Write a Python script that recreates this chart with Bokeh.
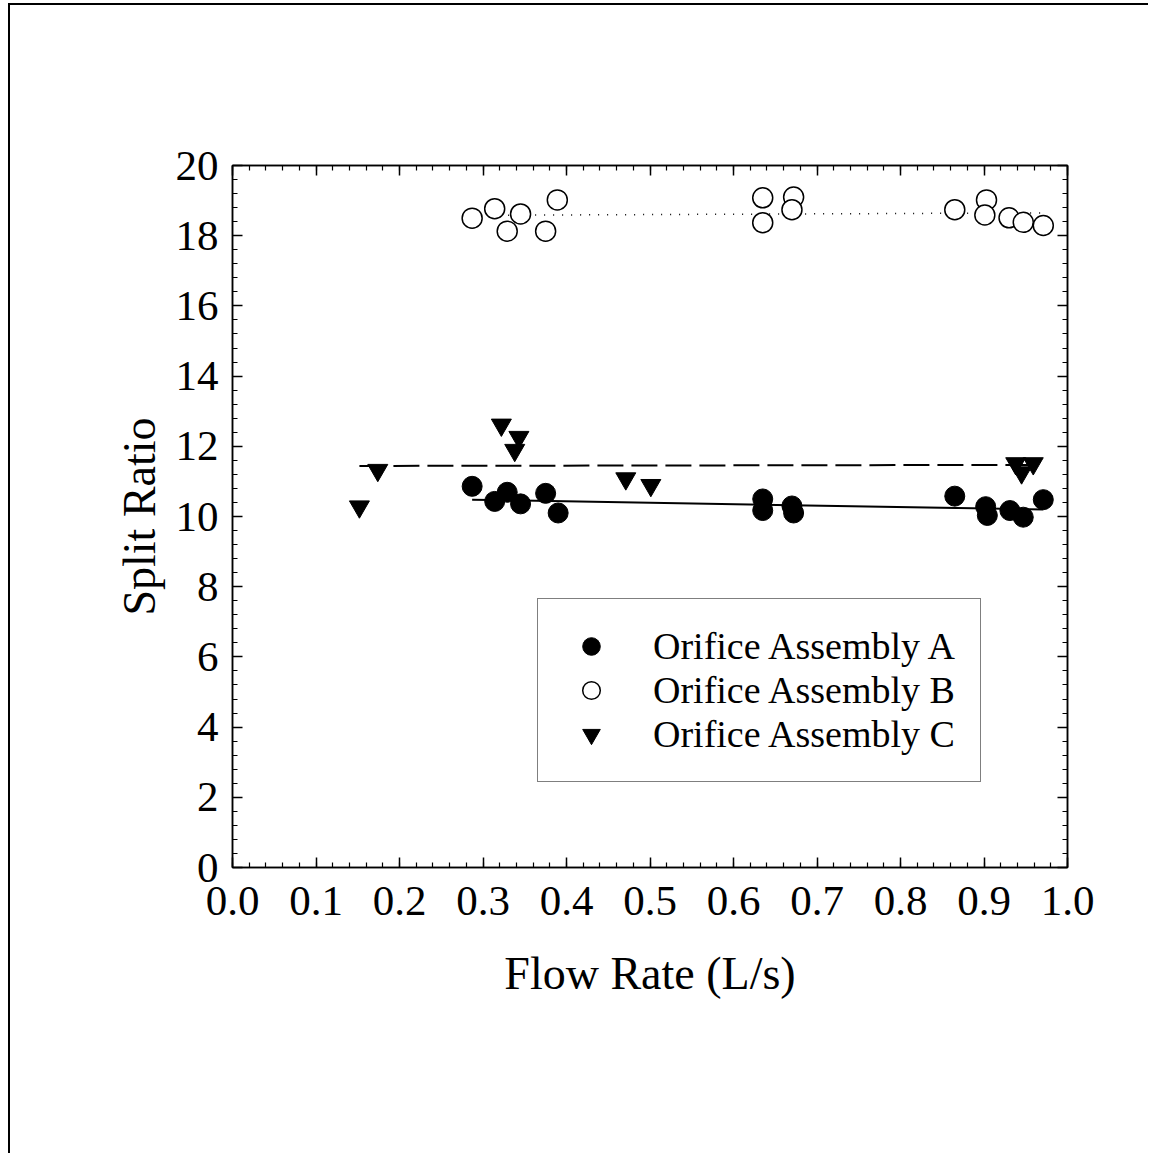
from bokeh.plotting import figure
from bokeh.models import (LinearAxis, Range1d, Legend, LegendItem,
                          SingleIntervalTicker, NumeralTickFormatter)
from bokeh.embed import file_html
from bokeh.resources import INLINE

# ---- data ----
a_x = [0.287, 0.314, 0.329, 0.345, 0.375, 0.390, 0.635, 0.635, 0.670, 0.672,
       0.865, 0.902, 0.904, 0.931, 0.947, 0.971]
a_y = [10.86, 10.43, 10.69, 10.36, 10.66, 10.10, 10.50, 10.17, 10.30, 10.10,
       10.58, 10.28, 10.03, 10.17, 9.98, 10.48]

b_x = [0.287, 0.314, 0.329, 0.345, 0.375, 0.389, 0.635, 0.635, 0.672, 0.670,
       0.865, 0.903, 0.901, 0.930, 0.947, 0.971]
b_y = [18.50, 18.77, 18.13, 18.62, 18.13, 19.02, 19.08, 18.37, 19.10, 18.74,
       18.74, 19.02, 18.59, 18.51, 18.38, 18.29]

c_x = [0.152, 0.174, 0.322, 0.343, 0.338, 0.471, 0.501, 0.938, 0.945, 0.959]
c_y = [10.28, 11.32, 12.61, 12.26, 11.89, 11.08, 10.89, 11.51, 11.25, 11.51]

# fitted lines (end points)
fit_a_x = [0.287, 0.971]
fit_a_y = [10.48, 10.20]
fit_b_x = [0.287, 0.971]
fit_b_y = [18.58, 18.65]
fit_c_x = [0.152, 0.959]
fit_c_y = [11.44, 11.47]

labels = ["Orifice Assembly A", "Orifice Assembly B", "Orifice Assembly C"]

FONT = "Liberation Serif"

p = figure(width=1140, height=1150,
           x_range=Range1d(0, 1), y_range=Range1d(0, 20),
           output_backend="svg", toolbar_location=None,
           min_border_left=222, min_border_right=83,
           min_border_top=160, min_border_bottom=288)
p.styles = {"border-top": "2px solid black", "border-left": "2px solid black",
            "margin-left": "8px", "margin-top": "3px"}
p.xgrid.visible = False
p.ygrid.visible = False
p.outline_line_color = "black"
p.outline_line_width = 1.5

xt = SingleIntervalTicker(interval=0.1, num_minor_ticks=5)
yt = SingleIntervalTicker(interval=2, num_minor_ticks=5)


def style_axis(ax, show_labels=True):
    ax.axis_line_color = "black"
    ax.axis_line_width = 1.5
    ax.major_tick_in = 10
    ax.major_tick_out = 0
    ax.minor_tick_in = 5
    ax.minor_tick_out = 0
    ax.major_tick_line_color = "black"
    ax.minor_tick_line_color = "black"
    ax.major_tick_line_width = 1.5
    ax.minor_tick_line_width = 1.2
    ax.major_label_text_font = FONT
    ax.major_label_text_color = "black"
    if show_labels:
        ax.major_label_text_font_size = "43px"
    else:
        ax.major_label_text_font_size = "0px"
        ax.major_label_text_alpha = 0
    ax.axis_label_text_font = FONT
    ax.axis_label_text_font_style = "normal"
    ax.axis_label_text_color = "black"
    ax.axis_label_text_font_size = "46px"


p.xaxis.ticker = xt
p.yaxis.ticker = yt
p.xaxis.formatter = NumeralTickFormatter(format="0.0")
style_axis(p.xaxis[0])
style_axis(p.yaxis[0])
p.xaxis.axis_label = "Flow Rate (L/s)"
p.yaxis.axis_label = "Split Ratio"
p.xaxis.major_label_standoff = 19
p.yaxis.major_label_standoff = 14
p.xaxis.axis_label_standoff = 30
p.yaxis.axis_label_standoff = 8

top_ax = LinearAxis(ticker=SingleIntervalTicker(interval=0.1, num_minor_ticks=5))
style_axis(top_ax, show_labels=False)
p.add_layout(top_ax, "above")
right_ax = LinearAxis(ticker=SingleIntervalTicker(interval=2, num_minor_ticks=5))
style_axis(right_ax, show_labels=False)
p.add_layout(right_ax, "right")

# fit lines
p.line(fit_a_x, fit_a_y, line_color="black", line_width=2)
p.line(fit_b_x, fit_b_y, line_color="black", line_width=1.5, line_dash="1 8")
p.line(fit_c_x, fit_c_y, line_color="black", line_width=2, line_dash="26 8")

rA = p.scatter(a_x, a_y, marker="circle", size=20,
               fill_color="black", line_color="black", line_width=1)
rB = p.scatter(b_x, b_y, marker="circle", size=20,
               fill_color="white", line_color="black", line_width=1.5)
rC = p.scatter(c_x, c_y, marker="inverted_triangle", size=20,
               fill_color="black", line_color="black", line_width=1)

legend = Legend(items=[LegendItem(label=labels[0], renderers=[rA]),
                       LegendItem(label=labels[1], renderers=[rB]),
                       LegendItem(label=labels[2], renderers=[rC])],
                location=(305, 85))
legend.margin = 0
legend.padding = 25
legend.spacing = 0
legend.glyph_width = 56
legend.glyph_height = 44
legend.label_height = 44
legend.label_standoff = 34
legend.label_text_font = FONT
legend.label_text_font_size = "38px"
legend.label_text_color = "black"
legend.border_line_color = "black"
legend.border_line_width = 1.5
legend.background_fill_color = "white"
legend.background_fill_alpha = 1
p.add_layout(legend, "center")

open("out.html", "w").write(file_html(p, INLINE))
